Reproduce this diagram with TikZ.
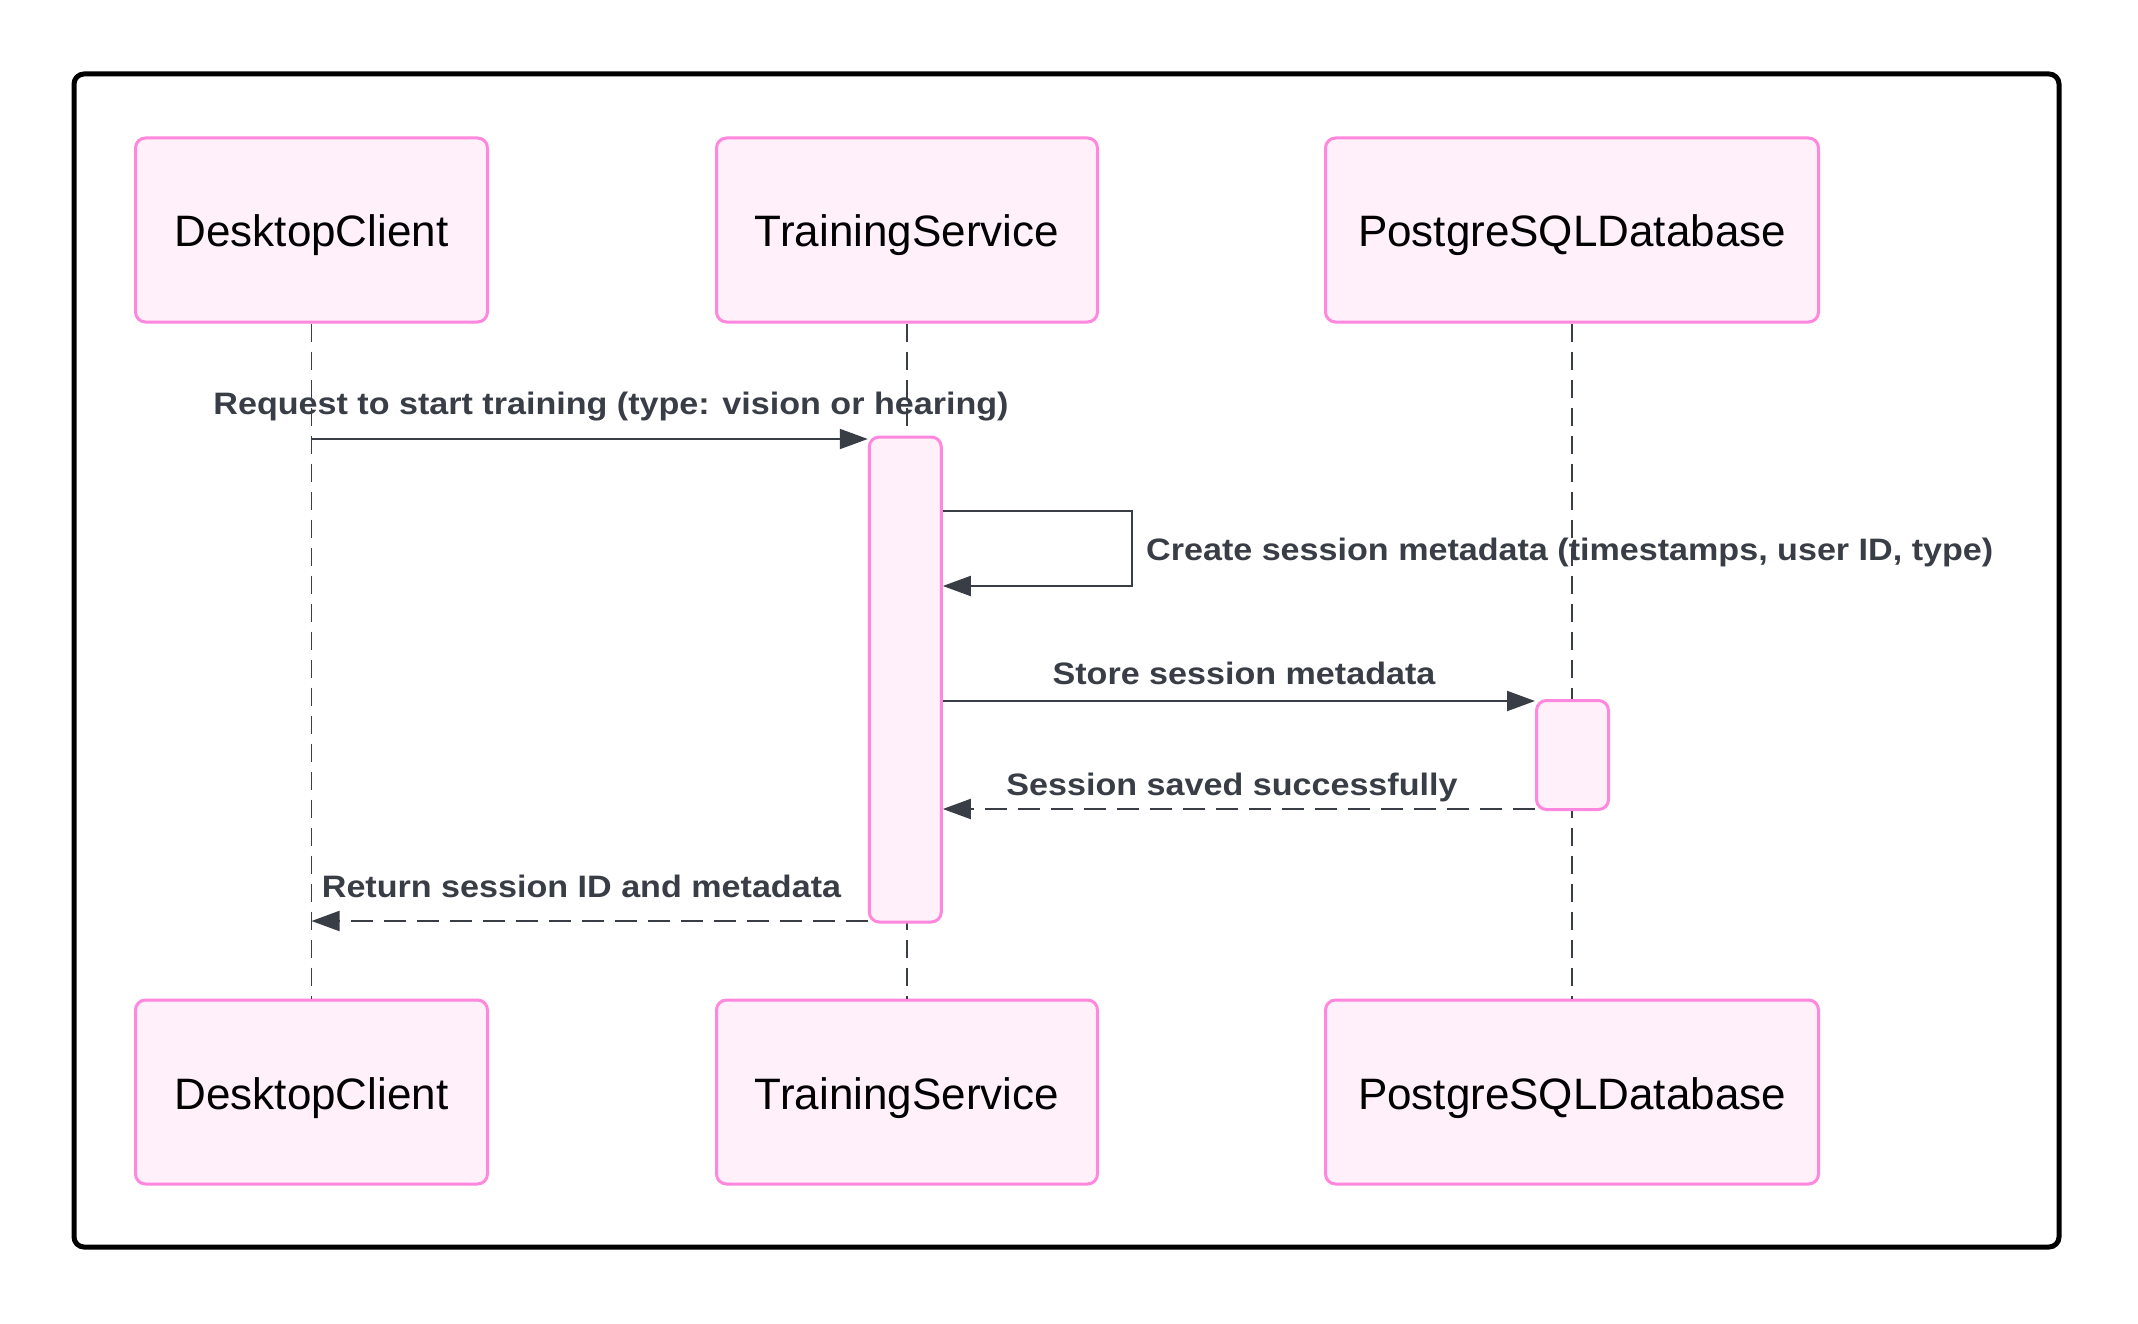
\documentclass[tikz,border=0pt]{standalone}
\usepackage{fontspec}
\setmainfont{Liberation Sans}
\newfontfamily\msgfont[FakeStretch=1.10]{Liberation Sans}
\usetikzlibrary{arrows.meta}
\definecolor{pinkline}{RGB}{255,135,222}
\definecolor{pinkfill}{RGB}{255,240,250}
\definecolor{ink}{RGB}{57,62,70}
\begin{document}
\begin{tikzpicture}[x=1pt,y=-1pt,
  actorbox/.style={draw=pinkline,fill=pinkfill,line width=3pt,rounded corners=10pt,
    minimum height=184pt,inner sep=0pt,text height=34pt,text depth=0pt,
    font=\fontsize{44}{50}\selectfont,text=black},
  actbox/.style={draw=pinkline,fill=pinkfill,line width=3pt,rounded corners=10pt,
    minimum width=72pt,inner sep=0pt},
  lifeline/.style={draw=ink,line width=1.6pt,dash pattern=on 18pt off 10pt},
  msg/.style={draw=ink,line width=2pt,-{Triangle[length=28pt,width=20pt]}},
  reply/.style={msg,dash pattern=on 22pt off 11pt},
  msglabel/.style={inner sep=0pt,anchor=base,text=ink,
    font=\msgfont\fontsize{31}{38}\selectfont\bfseries}]
\useasboundingbox (0,0) rectangle (2138,1324);
\fill[white] (0,0) rectangle (2138,1324);
\draw[black,line width=5pt,rounded corners=10pt] (74,74) rectangle (2059,1247);

% actors
\node[actorbox,minimum width=352pt] (top1) at (311.5,230) {DesktopClient};
\node[actorbox,minimum width=381pt] (top2) at (907,230) {TrainingService};
\node[actorbox,minimum width=493pt] (top3) at (1572,230) {PostgreSQLDatabase};
\node[actorbox,minimum width=352pt] (bot1) at (311.5,1092) {DesktopClient};
\node[actorbox,minimum width=381pt] (bot2) at (907,1092) {TrainingService};
\node[actorbox,minimum width=493pt] (bot3) at (1572,1092) {PostgreSQLDatabase};

% lifelines
\draw[lifeline] (top1.south) -- (bot1.north);
\draw[lifeline] (top2.south) -- (bot2.north);
\draw[lifeline] (top3.south) -- (bot3.north);

% activations
\node[actbox,minimum height=485pt] (act1) at (905.3,679.5) {};
\node[actbox,minimum height=109pt] (act2) at (1572.5,755) {};

% message rows
\coordinate (r1) at (0,439);
\coordinate (r2a) at (0,511);
\coordinate (r2b) at (0,586);
\coordinate (loopx) at (1132,0);
\coordinate (r3) at (0,701);
\coordinate (r4) at (0,809);
\coordinate (r5) at (0,921);

\draw[msg] (top1 |- r1) -- (act1.west |- r1);
\draw[msg] (act1.east |- r2a) -- (loopx |- r2a) -- (loopx |- r2b) -- (act1.east |- r2b);
\draw[msg] (act1.east |- r3) -- (act2.west |- r3);
\draw[reply] (act2.west |- r4) -- (act1.east |- r4);
\draw[reply] (act1.west |- r5) -- (top1 |- r5);

% labels
\node[msglabel] (l1) at (611,414.5) {Request to start training (type: vision or hearing)};
\node[msglabel,anchor=base west] (l2) at (1146,560.5) {Create session metadata (timestamps, user ID, type)};
\node[msglabel] (l3) at (1244,684.5) {Store session metadata};
\node[msglabel] (l4) at (1232,795) {Session saved successfully};
\node[msglabel] (l5) at (581.5,897) {Return session ID and metadata};
\end{tikzpicture}
\end{document}
